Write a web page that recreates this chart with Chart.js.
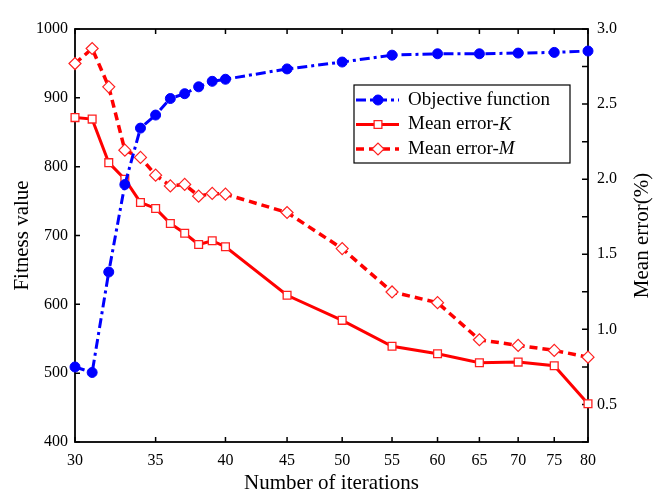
<!DOCTYPE html>
<html>
<head>
<meta charset="utf-8">
<script src="https://cdn.jsdelivr.net/npm/chart.js@4.4.0/dist/chart.umd.min.js"></script>
<style>
  html, body { margin: 0; padding: 0; background: #fff; }
  #wrap { width: 667px; height: 498px; }
</style>
</head>
<body>
<div id="wrap"><canvas id="c" width="667" height="498"></canvas></div>
<script>
// Iteration counts (x) and the three measured series
const iterations = [30, 31, 32, 33, 34, 35, 36, 37, 38, 39, 40, 45, 50, 55, 60, 65, 70, 75, 80];
const objectiveFunction = [509, 501, 647, 774, 856, 875, 899, 906, 916, 924, 927, 942, 952, 962, 964, 964, 965, 966, 968];
const meanErrorK = [2.41, 2.40, 2.11, 2.00, 1.845, 1.805, 1.705, 1.64, 1.565, 1.59, 1.55, 1.227, 1.06, 0.887, 0.838, 0.778, 0.782, 0.758, 0.505];
const meanErrorM = [2.77, 2.87, 2.615, 2.193, 2.145, 2.027, 1.955, 1.965, 1.887, 1.905, 1.90, 1.778, 1.538, 1.249, 1.178, 0.931, 0.893, 0.86, 0.815];

// Axis tick values
const xTicks = [30, 35, 40, 45, 50, 55, 60, 65, 70, 75, 80];

// Legend text: plain part + italic suffix
const seriesNames = [
  { plain: 'Objective function', italic: '' },
  { plain: 'Mean error-', italic: 'K' },
  { plain: 'Mean error-', italic: 'M' }
];

const FONT = '"Liberation Serif", "Times New Roman", serif';
const pairs = (ys) => iterations.map((x, i) => ({ x: x, y: ys[i] }));

// Boxed frame with inward tick marks on all four sides
const frameTicks = {
  id: 'frameTicks',
  beforeDatasetsDraw(chart) {
    const { ctx, chartArea: a, scales } = chart;
    ctx.save();
    ctx.strokeStyle = '#000';
    ctx.lineWidth = 1.8;
    ctx.strokeRect(a.left, a.top, a.right - a.left, a.bottom - a.top);
    ctx.lineWidth = 1.5;
    ctx.beginPath();
    scales.x.ticks.forEach(t => {
      const px = scales.x.getPixelForValue(t.value);
      ctx.moveTo(px, a.bottom); ctx.lineTo(px, a.bottom - 5);
      ctx.moveTo(px, a.top); ctx.lineTo(px, a.top + 5);
    });
    scales.y.ticks.forEach(t => {
      const py = scales.y.getPixelForValue(t.value);
      ctx.moveTo(a.left, py); ctx.lineTo(a.left + 5, py);
    });
    scales.y1.ticks.forEach(t => {
      const py = scales.y1.getPixelForValue(t.value);
      ctx.moveTo(a.right, py); ctx.lineTo(a.right - 6, py);
    });
    ctx.stroke();
    ctx.restore();
  }
};

// Right-hand axis title (reads bottom-to-top) and the boxed legend
const extras = {
  id: 'extras',
  afterDraw(chart) {
    const { ctx, chartArea: a } = chart;
    ctx.save();
    ctx.fillStyle = '#000';
    ctx.font = '21px ' + FONT;
    ctx.textAlign = 'center';
    ctx.textBaseline = 'middle';
    ctx.translate(a.right + 54, (a.top + a.bottom) / 2);
    ctx.rotate(-Math.PI / 2);
    ctx.fillText('Mean error(%)', 0, 0);
    ctx.restore();

    const bx = a.right - 234, by = a.top + 56, bw = 216, bh = 78;
    ctx.save();
    ctx.fillStyle = '#fff';
    ctx.fillRect(bx, by, bw, bh);
    ctx.strokeStyle = '#000';
    ctx.lineWidth = 1.2;
    ctx.strokeRect(bx, by, bw, bh);
    chart.data.datasets.forEach((ds, i) => {
      const y = by + 15 + i * 24.5;
      ctx.strokeStyle = ds.borderColor;
      ctx.lineWidth = ds.borderWidth;
      ctx.setLineDash(ds.borderDash || []);
      ctx.beginPath();
      ctx.moveTo(bx + 2, y);
      ctx.lineTo(bx + 45, y);
      ctx.stroke();
      ctx.setLineDash([]);
      ctx.fillStyle = ds.pointBackgroundColor;
      ctx.strokeStyle = ds.pointBorderColor;
      ctx.lineWidth = ds.pointBorderWidth;
      Chart.helpers.drawPoint(ctx, {
        pointStyle: ds.pointStyle, radius: ds.pointRadius,
        borderWidth: ds.pointBorderWidth, rotation: 0
      }, bx + 24, y);
      const nm = seriesNames[i];
      ctx.fillStyle = '#000';
      ctx.textAlign = 'left';
      ctx.textBaseline = 'middle';
      ctx.font = '19px ' + FONT;
      ctx.fillText(nm.plain, bx + 54, y);
      const w = ctx.measureText(nm.plain).width;
      if (nm.italic) {
        ctx.font = 'italic 19px ' + FONT;
        ctx.fillText(nm.italic, bx + 54 + w, y);
      }
    });
    ctx.restore();
  }
};

new Chart(document.getElementById('c'), {
  type: 'line',
  data: {
    datasets: [
      {
        label: seriesNames[0].plain + seriesNames[0].italic,
        data: pairs(objectiveFunction),
        yAxisID: 'y',
        borderColor: '#0000ff',
        borderWidth: 3,
        borderDash: [10, 4, 3, 4],
        pointStyle: 'circle',
        pointRadius: 5,
        pointBackgroundColor: '#0000ff',
        pointBorderColor: '#0000ff',
        pointBorderWidth: 1,
        clip: false
      },
      {
        label: seriesNames[1].plain + seriesNames[1].italic,
        data: pairs(meanErrorK),
        yAxisID: 'y1',
        borderColor: '#ff0000',
        borderWidth: 3,
        borderDash: [],
        pointStyle: 'rect',
        pointRadius: 5.5,
        pointBackgroundColor: '#ffffff',
        pointBorderColor: '#ff2020',
        pointBorderWidth: 1.3,
        clip: false
      },
      {
        label: seriesNames[2].plain + seriesNames[2].italic,
        data: pairs(meanErrorM),
        yAxisID: 'y1',
        borderColor: '#ff0000',
        borderWidth: 3.5,
        borderDash: [8, 5],
        pointStyle: 'rectRot',
        pointRadius: 6,
        pointBackgroundColor: '#ffffff',
        pointBorderColor: '#ff2020',
        pointBorderWidth: 1.2,
        clip: false
      }
    ]
  },
  options: {
    responsive: false,
    animation: false,
    devicePixelRatio: 1,
    layout: { padding: { top: 29, left: 0, right: 0, bottom: 0 } },
    plugins: { legend: { display: false }, tooltip: { enabled: false } },
    elements: { line: { tension: 0 } },
    scales: {
      x: {
        type: 'logarithmic',
        position: 'bottom',
        min: 30,
        max: 80,
        afterBuildTicks: s => { s.ticks = xTicks.map(v => ({ value: v })); },
        afterFit: s => { s.height = 56; },
        grid: { display: false, drawTicks: false },
        border: { display: false },
        ticks: {
          autoSkip: false, maxRotation: 0, minRotation: 0, padding: 9,
          color: '#000', font: { family: FONT, size: 16 },
          callback: v => String(v)
        },
        title: {
          display: true, text: 'Number of iterations', color: '#000',
          font: { family: FONT, size: 21 }, padding: { top: 0, bottom: 2 }
        }
      },
      y: {
        type: 'linear',
        position: 'left',
        min: 400,
        max: 1000,
        afterFit: s => { s.width = 75; },
        grid: { display: false, drawTicks: false },
        border: { display: false },
        ticks: {
          stepSize: 100, padding: 7, color: '#000',
          font: { family: FONT, size: 16 },
          callback: v => String(v)
        },
        title: {
          display: true, text: 'Fitness value', color: '#000',
          font: { family: FONT, size: 21 }, padding: { top: 9.4, bottom: 0 }
        }
      },
      y1: {
        type: 'linear',
        position: 'right',
        min: 0.25,
        max: 3.0,
        afterFit: s => { s.width = 79; },
        grid: { display: false, drawTicks: false },
        border: { display: false },
        ticks: {
          stepSize: 0.25, padding: 9, color: '#000',
          font: { family: FONT, size: 16 },
          callback: v => {
            const h = v * 2;
            return (Math.abs(h - Math.round(h)) < 1e-6 && v >= 0.5) ? v.toFixed(1) : '';
          }
        }
      }
    }
  },
  plugins: [frameTicks, extras]
});
</script>
</body>
</html>
